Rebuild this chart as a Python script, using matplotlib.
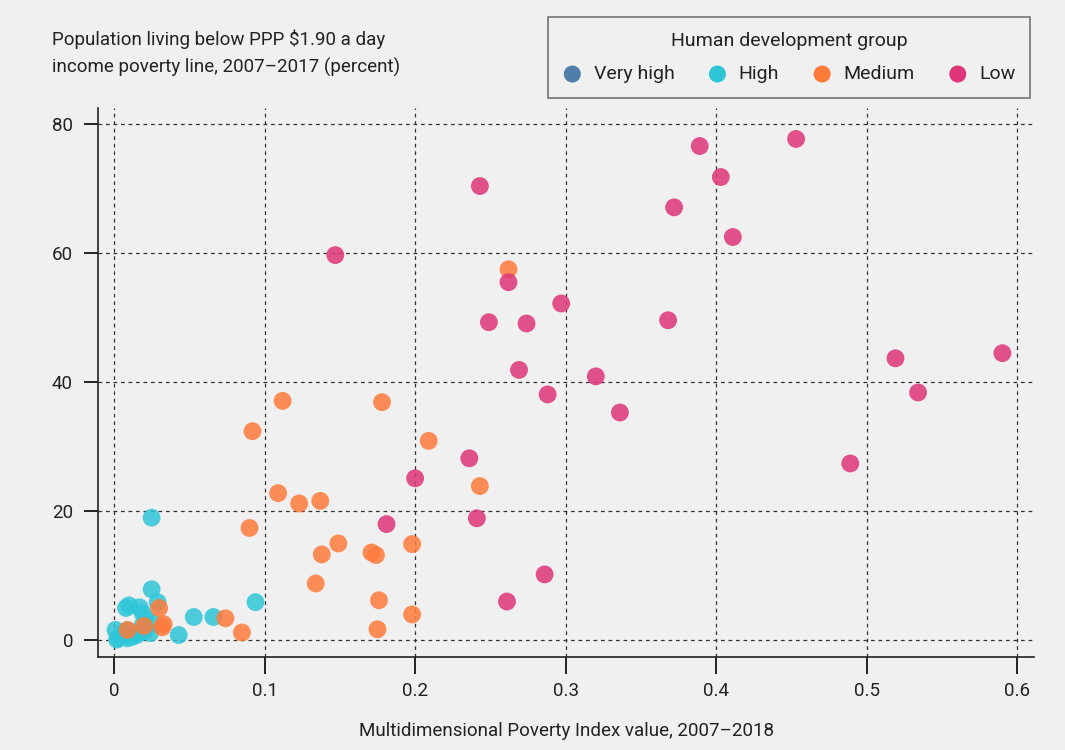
import numpy as np
import matplotlib.pyplot as plt
import matplotlib as mpl

mpl.rcParams['font.family'] = ['Roboto', 'DejaVu Sans']

groups = ['Very high', 'High', 'Medium', 'Low']
colors = ['#4f7eab', '#2fc6d8', '#fd7b3a', '#de3578']

# very high group: no points visible in the chart
vh_x = []
vh_y = []

high_x = [0.025, 0.025, 0.029, 0.010, 0.008, 0.017, 0.019, 0.021, 0.026, 0.053, 0.066,
          0.094, 0.043, 0.017, 0.019, 0.001, 0.003, 0.009, 0.015, 0.009, 0.024, 0.004,
          0.006, 0.012, 0.002, 0.020]
high_y = [19.0, 7.9, 5.9, 5.4, 5.0, 5.1, 4.2, 3.4, 2.6, 3.6, 3.6,
          5.9, 0.8, 1.2, 2.3, 1.6, 0.3, 0.3, 0.8, 1.5, 1.1, 0.6,
          1.0, 0.5, 0.1, 1.4]

med_x = [0.262, 0.112, 0.178, 0.092, 0.209, 0.243, 0.109, 0.123, 0.137, 0.090, 0.149,
         0.138, 0.171, 0.174, 0.198, 0.134, 0.176, 0.198, 0.175, 0.085, 0.074, 0.030,
         0.033, 0.032, 0.020, 0.009]
med_y = [57.5, 37.1, 36.9, 32.4, 30.9, 23.9, 22.8, 21.2, 21.6, 17.4, 15.0,
         13.3, 13.6, 13.2, 14.9, 8.8, 6.2, 4.0, 1.7, 1.2, 3.4, 5.0,
         2.5, 2.0, 2.2, 1.6]

low_x = [0.147, 0.243, 0.262, 0.249, 0.274, 0.297, 0.269, 0.320, 0.288, 0.336, 0.368,
         0.389, 0.403, 0.372, 0.411, 0.453, 0.519, 0.590, 0.534, 0.489, 0.236, 0.200,
         0.241, 0.181, 0.286, 0.261]
low_y = [59.7, 70.4, 55.5, 49.3, 49.1, 52.2, 41.9, 40.9, 38.1, 35.3, 49.6,
         76.6, 71.8, 67.1, 62.5, 77.7, 43.7, 44.5, 38.4, 27.4, 28.2, 25.1,
         18.9, 18.0, 10.2, 6.0]

xs = [vh_x, high_x, med_x, low_x]
ys = [vh_y, high_y, med_y, low_y]

bg = '#f0f0f0'
fig = plt.figure(figsize=(10.65, 7.5), dpi=100, facecolor=bg)
ax = fig.add_axes([98/1065, 93/750, (1034-98)/1065, (657-108)/750])
ax.set_facecolor(bg)

for g, c, x, y in zip(groups, colors, xs, ys):
    ax.scatter(x, y, s=165, color=c, alpha=0.85, edgecolors='none', label=g, zorder=3)

ax.set_xlim(-0.0106, 0.611)
ax.set_ylim(-2.6, 82.5)
ax.set_xticks([0, 0.1, 0.2, 0.3, 0.4, 0.5, 0.6])
ax.set_xticklabels(['0', '0.1', '0.2', '0.3', '0.4', '0.5', '0.6'])
ax.set_yticks([0, 20, 40, 60, 80])
ax.grid(True, ls=(0, (3, 3)), color='#333333', lw=0.9, zorder=1)
for s in ['top', 'right']:
    ax.spines[s].set_visible(False)
for s in ['left', 'bottom']:
    ax.spines[s].set_linewidth(1.2)
    ax.spines[s].set_color('#222222')
ax.tick_params(axis='y', length=10, width=1.2, labelsize=13.5, pad=8, labelcolor='#222222')
ax.tick_params(axis='x', length=12, width=1.2, labelsize=13.5, pad=6, labelcolor='#222222')
ax.set_xlabel('Multidimensional Poverty Index value, 2007\u20132018', fontsize=13.5,
              labelpad=16, color='#222222')

fig.text(52/1065, 1 - 53/750, 'Population living below PPP $1.90 a day\nincome poverty line, 2007\u20132017 (percent)',
         fontsize=13.5, va='center', ha='left', linespacing=1.6, color='#222222')

leg = fig.legend(loc='upper left', bbox_to_anchor=(548/1065, 1 - 96/750, 482/1065, 79/750),
                 mode='expand', ncol=4, title='Human development group',
                 fontsize=14, title_fontsize=14,
                 frameon=True, fancybox=False, edgecolor='#555555', facecolor=bg,
                 markerscale=1.0, handletextpad=0.6, handlelength=1.0,
                 borderpad=0.75, labelspacing=0.8, borderaxespad=0)
leg.get_frame().set_linewidth(1.2)
leg.get_title().set_color('#222222')
for t in leg.get_texts():
    t.set_color('#222222')
for h in leg.legend_handles:
    h.set_alpha(1)
    h.set_sizes([150])

plt.savefig('out.png', dpi=100, facecolor=bg)
